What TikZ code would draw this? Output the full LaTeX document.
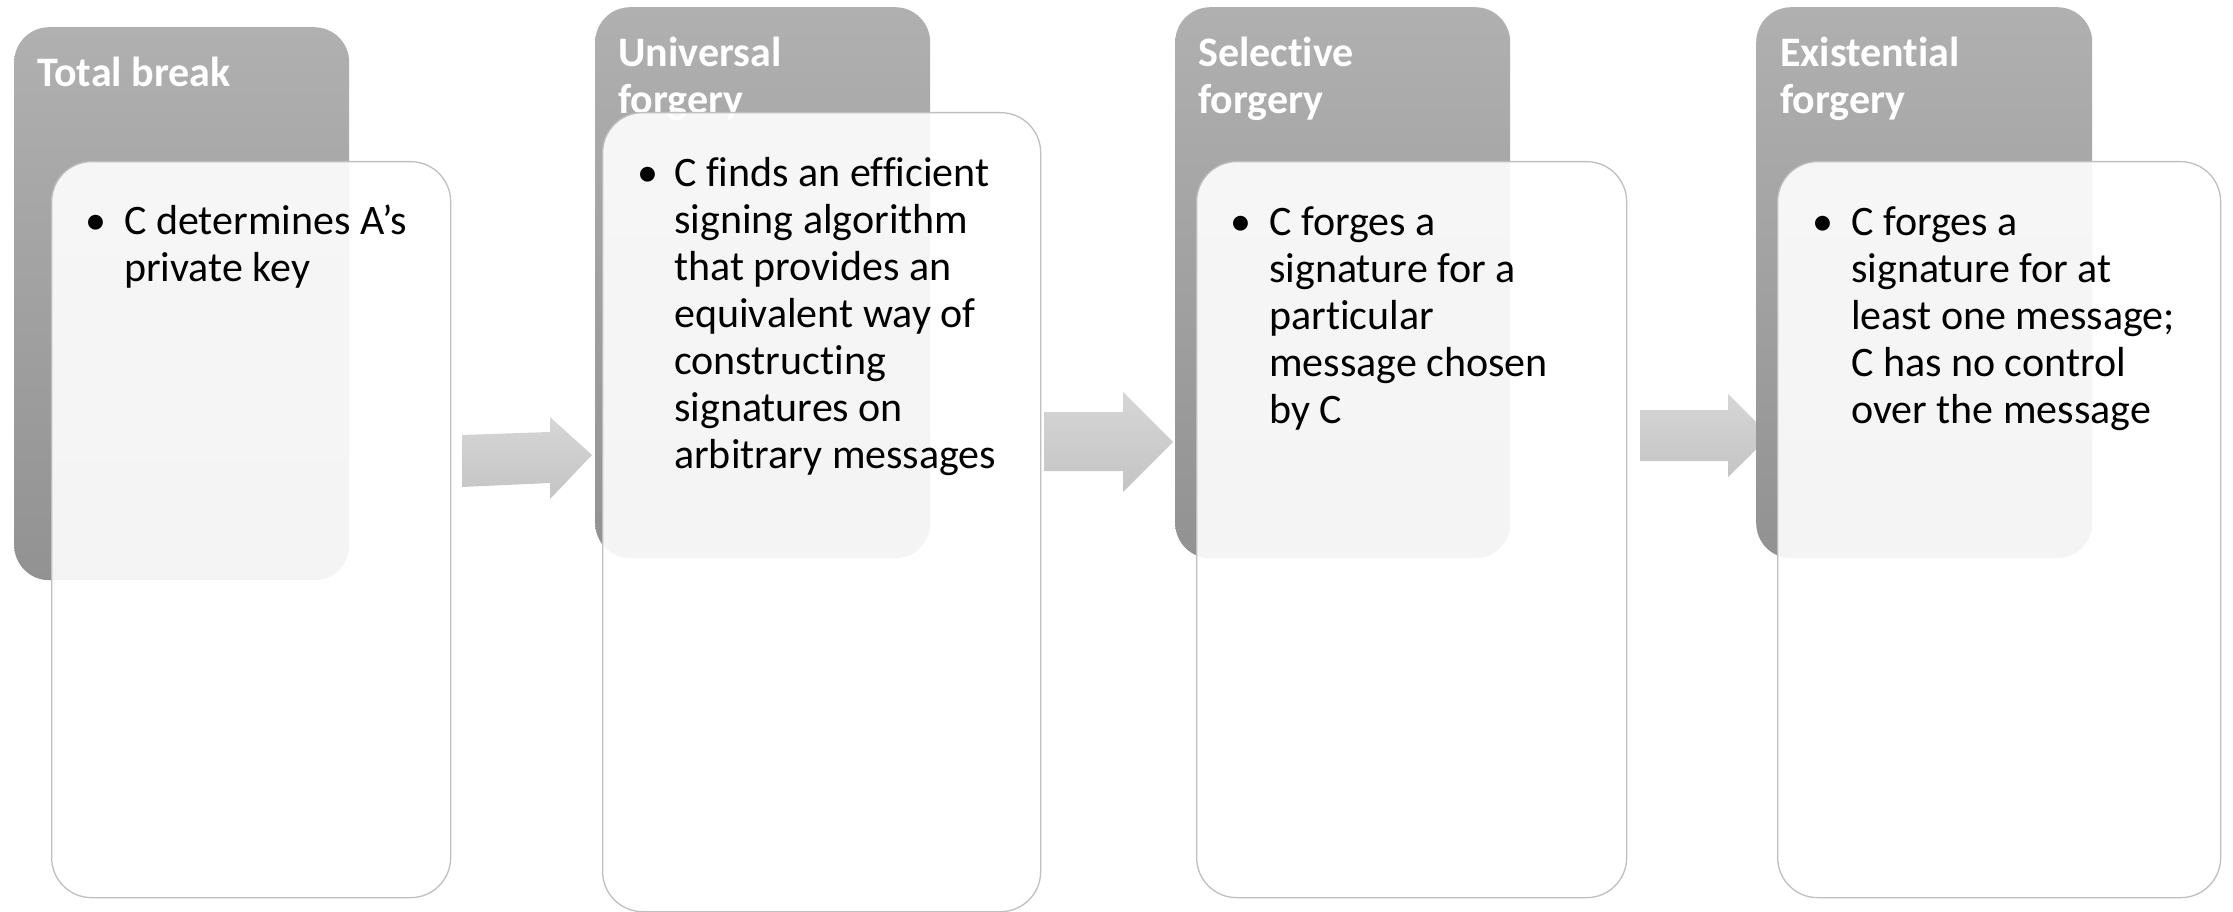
\documentclass[tikz,border=0pt]{standalone}
\usepackage{fontspec}
\setmainfont{Carlito}[Ligatures={NoCommon,NoContextual,NoRare}]
\definecolor{dtop}{HTML}{B0B0B0}
\definecolor{dbot}{HTML}{929292}
\definecolor{atop}{HTML}{D6D6D6}
\definecolor{abot}{HTML}{C4C4C4}
\definecolor{lline}{HTML}{BFBFBF}
\newcommand\txtlines[1]{\vtop{\baselineskip=47pt\lineskiplimit=-100pt\lineskip=0pt\halign{##\hfil\cr#1\crcr}}}
\tikzset{
  darkbox/.style={anchor=north west, inner sep=0pt, rounded corners=35pt, top color=dtop, bottom color=dbot, draw=none},
  litebox/.style={anchor=north west, inner sep=0pt, rounded corners=40pt, fill=white, fill opacity=0.9, draw=lline, line width=1.3pt},
  titletext/.style={anchor=base west, inner sep=0pt, text=white, font=\fontsize{42}{47}\selectfont\bfseries},
  bodytext/.style={anchor=base west, inner sep=0pt, text=black, font=\fontsize{42}{47}\selectfont},
  bulletmark/.style={anchor=base, inner sep=0pt, text=black, font=\fontsize{42}{47}\selectfont},
  blockarrow/.style={top color=atop, bottom color=abot, draw=none}
}
\begin{document}
\begin{tikzpicture}[x=1pt,y=-1pt]
\useasboundingbox (0,0) rectangle (2233,912);
% arrows
\path[blockarrow] (462,435) coordinate (a1s) -- (550,432) -- (550,417) -- (592,455) coordinate (a1e) -- (550,499) -- (550,483) -- (462,487) -- cycle;
\path[blockarrow] (1044,412) coordinate (a2s) -- (1123,412) -- (1123,392) -- (1173,442) coordinate (a2e) -- (1123,492) -- (1123,471) -- (1044,471) -- cycle;
\path[blockarrow] (1640,410) coordinate (a3s) -- (1728,410) -- (1728,394) -- (1770,436) coordinate (a3e) -- (1728,477) -- (1728,461) -- (1640,461) -- cycle;
% dark title boxes
\node (d1) [darkbox, minimum width=335pt, minimum height=553pt] at (14,27) {};
\node (d2) [darkbox, minimum width=335pt, minimum height=551pt] at (595,7) {};
\node (d3) [darkbox, minimum width=335pt, minimum height=551pt] at (1175,7) {};
\node (d4) [darkbox, minimum width=336pt, minimum height=551pt] at (1756,7) {};
% titles
\node (t1) [titletext] at (37,87) {\txtlines{Total break}};
\node (t2) [titletext] at (618,67) {\txtlines{Universal\cr forgery}};
\node (t3) [titletext] at (1198,67) {\txtlines{Selective\cr forgery}};
\node (t4) [titletext] at (1780,67) {\txtlines{Existential\cr forgery}};
% light content boxes
\node (l1) [litebox, minimum width=399pt, minimum height=736pt] at (51,161) {};
\node (l2) [litebox, minimum width=438pt, minimum height=799pt] at (602,112) {};
\node (l3) [litebox, minimum width=430pt, minimum height=736pt] at (1196,161) {};
\node (l4) [litebox, minimum width=443pt, minimum height=736pt] at (1777,161) {};
% bullets
\node (u1) [bulletmark] at (96,235) {•};
\node (u2) [bulletmark] at (648,187) {•};
\node (u3) [bulletmark] at (1241,236) {•};
\node (u4) [bulletmark] at (1823,236) {•};
% body texts
\node (x1) [bodytext] at (124,235) {\txtlines{C determines A’s\cr private key}};
\node (x2) [bodytext] at (674,187) {\txtlines{C finds an efficient\cr signing algorithm\cr that provides an\cr equivalent way of\cr constructing\cr signatures on\cr arbitrary messages}};
\node (x3) [bodytext] at (1269,236) {\txtlines{C forges a\cr signature for a\cr particular\cr message chosen\cr by C}};
\node (x4) [bodytext] at (1851,236) {\txtlines{C forges a\cr signature for at\cr least one message;\cr C has no control\cr over the message}};
\end{tikzpicture}
\end{document}
